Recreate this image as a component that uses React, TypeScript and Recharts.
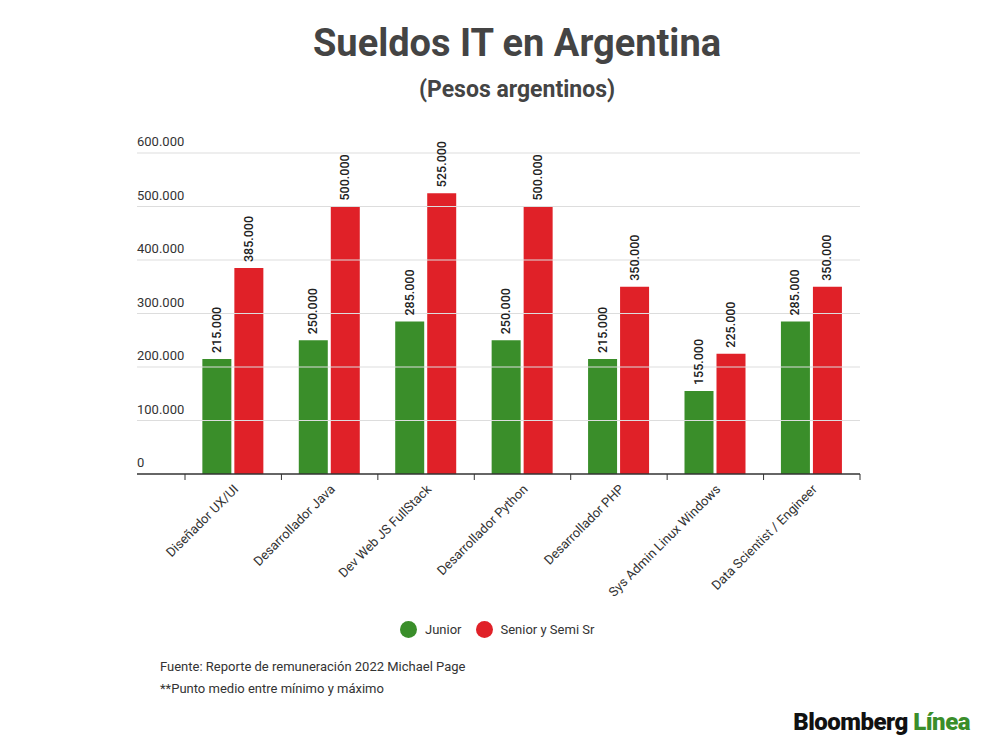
import React from 'react'
import { BarChart, Bar, XAxis, YAxis, LabelList } from 'recharts'

const categories = [
  'Diseñador UX/UI',
  'Desarrollador Java',
  'Dev Web JS FullStack',
  'Desarrollador Python',
  'Desarrollador PHP',
  'Sys Admin Linux Windows',
  'Data Scientist / Engineer',
]
const junior = [215000, 250000, 285000, 250000, 215000, 155000, 285000]
const senior = [385000, 500000, 525000, 500000, 350000, 225000, 350000]
const yTicks = [0, 100000, 200000, 300000, 400000, 500000, 600000]

const data = categories.map((name, i) => ({ name, junior: junior[i], senior: senior[i] }))

const fmt = (v: number) => v.toLocaleString('de-DE')
const FONT = 'Roboto, sans-serif'
const GREEN = '#3a8e2a'
const RED = '#e02128'

const YTick = (props: any) => {
  const { y, payload } = props
  const zero = payload.value === 0
  return (
    <g>
      <line x1={137} x2={860} y1={y} y2={y} stroke={zero ? '#333' : '#ddd'} strokeWidth={zero ? 1.5 : 1} />
      <text x={137} y={y - 7} fill="#333" fontSize={13} fontFamily={FONT}>
        {fmt(payload.value)}
      </text>
    </g>
  )
}

const XTick = (props: any) => {
  const { x, y, payload } = props
  const half = 675 / 7 / 2
  return (
    <g>
      <line x1={x - half} x2={x - half} y1={y - 8} y2={y - 2} stroke="#333" />
      {payload.index === categories.length - 1 && (
        <line x1={x + half} x2={x + half} y1={y - 8} y2={y - 2} stroke="#333" />
      )}
      <text
        x={x + 6}
        y={y + 8}
        textAnchor="end"
        transform={`rotate(-45 ${x + 6} ${y + 8})`}
        fill="#333"
        fontSize={13}
        fontFamily={FONT}
      >
        {payload.value}
      </text>
    </g>
  )
}

const ValueLabel = (props: any) => {
  const { x, y, width, value } = props
  const cx = x + width / 2 + 4
  const cy = y - 6
  return (
    <text x={cx} y={cy} transform={`rotate(-90 ${cx} ${cy})`} fill="#222" fontSize={12.5} fontWeight={500} fontFamily={FONT}>
      {fmt(value)}
    </text>
  )
}

const Dot = ({ color }: { color: string }) => (
  <span style={{ display: 'inline-block', width: 17, height: 17, borderRadius: '50%', background: color, verticalAlign: 'middle', marginRight: 8 }} />
)

export default function App() {
  return (
    <div style={{ position: 'absolute', left: 0, top: 0, width: 1000, height: 752, background: '#fff', fontFamily: FONT }}>
      <div style={{ position: 'absolute', top: 21, left: 17, width: 1000, textAlign: 'center', fontSize: 38, fontWeight: 700, color: '#444' }}>
        Sueldos IT en Argentina
      </div>
      <div style={{ position: 'absolute', top: 76, left: 17, width: 1000, textAlign: 'center', fontSize: 23, fontWeight: 700, color: '#444' }}>
        (Pesos argentinos)
      </div>
      <BarChart
        width={1000}
        height={752}
        data={data}
        margin={{ top: 153, left: 137, right: 140, bottom: 0 }}
        barCategoryGap="18%"
        barGap={3}
      >
        <YAxis domain={[0, 600000]} ticks={yTicks} axisLine={false} tickLine={false} width={48} tick={<YTick />} />
        <XAxis dataKey="name" interval={0} tickLine={false} axisLine={false} tick={<XTick />} height={278} />
        <Bar dataKey="junior" name="Junior" fill={GREEN} isAnimationActive={false}>
          <LabelList dataKey="junior" content={<ValueLabel />} />
        </Bar>
        <Bar dataKey="senior" name="Senior y Semi Sr" fill={RED} isAnimationActive={false}>
          <LabelList dataKey="senior" content={<ValueLabel />} />
        </Bar>
      </BarChart>
      <div style={{ position: 'absolute', top: 621, left: 400, fontSize: 13, color: '#333' }}>
        <Dot color={GREEN} />
        <span style={{ verticalAlign: 'middle', marginRight: 14 }}>Junior</span>
        <Dot color={RED} />
        <span style={{ verticalAlign: 'middle' }}>Senior y Semi Sr</span>
      </div>
      <div style={{ position: 'absolute', left: 160, top: 659, fontSize: 13, color: '#333' }}>
        Fuente: Reporte de remuneración 2022 Michael Page
      </div>
      <div style={{ position: 'absolute', left: 160, top: 681, fontSize: 13, color: '#333' }}>
        **Punto medio entre mínimo y máximo
      </div>
      <div style={{ position: 'absolute', right: 30, top: 708, fontSize: 24, fontWeight: 900, color: '#111', letterSpacing: -0.5 }}>
        Bloomberg <span style={{ color: GREEN }}>Línea</span>
      </div>
    </div>
  )
}
